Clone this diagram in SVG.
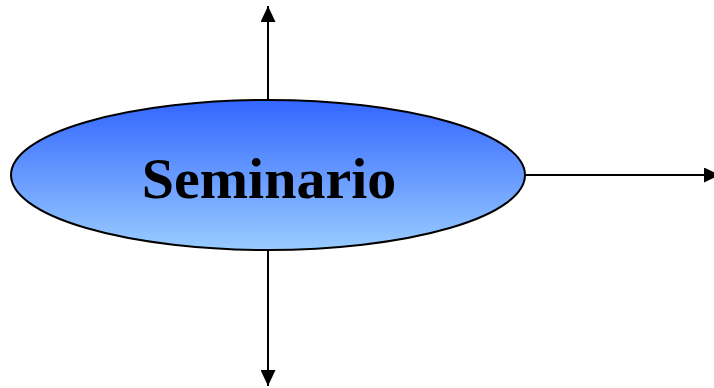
<svg xmlns="http://www.w3.org/2000/svg" width="714" height="388" viewBox="0 0 714 388">
<defs>
<linearGradient id="g" x1="0" y1="0" x2="0" y2="1">
<stop offset="0" stop-color="#3366FF"/>
<stop offset="1" stop-color="#99CCFF"/>
</linearGradient>
<marker id="ah" markerWidth="16" markerHeight="15" refX="16" refY="7.5" orient="auto" markerUnits="userSpaceOnUse">
<path d="M0,0 L16,7.5 L0,15 Z" fill="#000"/>
</marker>
<style>
.c{stroke:#000;stroke-width:2;fill:none;marker-end:url(#ah)}
.t{font-family:"Liberation Serif","Times New Roman",serif;font-weight:bold;font-size:58px;fill:#000}
</style>
</defs>
<g id="connectors">
<line class="c" x1="268" y1="100" x2="268" y2="6"/>
<line class="c" x1="525" y1="175" x2="720" y2="175"/>
<line class="c" x1="268" y1="250" x2="268" y2="386"/>
</g>
<g id="seminario">
<ellipse cx="268" cy="175" rx="257" ry="75" fill="url(#g)" stroke="#000" stroke-width="2"/>
<text class="t" x="269" y="198" text-anchor="middle">Seminario</text>
</g>
</svg>
